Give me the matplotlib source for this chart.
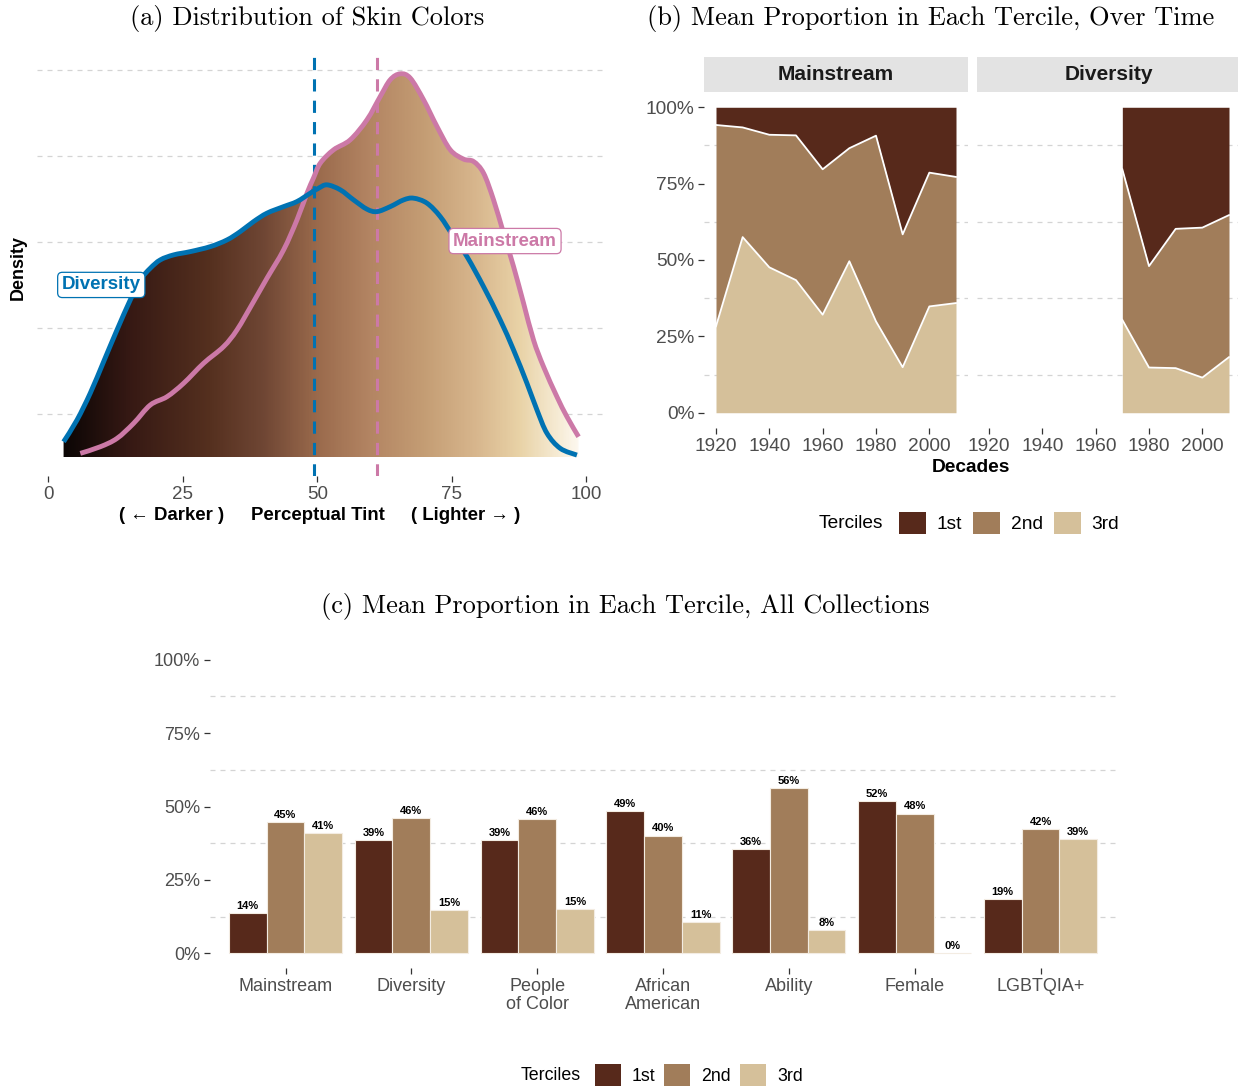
import numpy as np
import matplotlib
matplotlib.use("Agg")
import matplotlib.pyplot as plt
from matplotlib.colors import LinearSegmentedColormap
from matplotlib.patches import Patch, PathPatch
from matplotlib.path import Path
from matplotlib.ticker import PercentFormatter

plt.rcParams['font.family'] = ['Liberation Sans', 'DejaVu Sans']

# ---- (a) density curves (perceptual tint vs density) ----
div_tint = [2.84, 5.33, 7.81, 10.28, 12.77, 15.24, 17.10, 18.96, 20.82, 23.29, 26.39, 30.11,
            33.22, 35.69, 38.16, 40.65, 43.74, 46.23, 48.70, 50.19, 51.80, 54.28, 56.75, 59.24,
            61.10, 63.57, 66.04, 67.90, 70.39, 72.86, 75.33, 77.83, 80.91, 84.01, 86.49, 88.98,
            90.84, 92.70, 95.17, 98.27]
div_density = [0.00178, 0.00430, 0.00744, 0.01108, 0.01477, 0.01826, 0.02058, 0.02194, 0.02291,
               0.02349, 0.02387, 0.02445, 0.02523, 0.02620, 0.02736, 0.02834, 0.02910, 0.02969,
               0.03066, 0.03122, 0.03163, 0.03105, 0.02988, 0.02880, 0.02852, 0.02910, 0.02988,
               0.03008, 0.02950, 0.02794, 0.02562, 0.02329, 0.01980, 0.01593, 0.01244, 0.00857,
               0.00547, 0.00276, 0.00101, 0.00023]
main_tint = [5.95, 9.67, 12.77, 15.86, 18.96, 22.06, 25.15, 28.87, 32.58, 35.07, 38.16, 40.65,
             43.74, 46.23, 48.09, 49.31, 50.56, 53.03, 56.13, 59.24, 61.71, 63.57, 65.43, 67.29,
             69.76, 72.25, 74.72, 77.19, 79.05, 80.91, 82.77, 84.63, 86.49, 88.35, 90.20, 92.06,
             94.55, 96.41, 98.57]
main_density = [0.00043, 0.00120, 0.00217, 0.00392, 0.00605, 0.00701, 0.00857, 0.01090, 0.01283,
                0.01477, 0.01806, 0.02078, 0.02407, 0.02756, 0.03066, 0.03244, 0.03415, 0.03570,
                0.03686, 0.03919, 0.04190, 0.04384, 0.04453, 0.04403, 0.04151, 0.03841, 0.03570,
                0.03462, 0.03434, 0.03299, 0.02988, 0.02601, 0.02213, 0.01787, 0.01360, 0.01050,
                0.00701, 0.00469, 0.00236]
div_mean = 49.3
main_mean = 61.1

# skin tone gradient stops (tint, colour)
tint_stops = [0, 3, 15, 30, 40, 50, 60, 70, 80, 88, 95, 100]
tint_colors = ['#080404', '#0c0605', '#361914', '#55301f', '#6f4634', '#9a6a4c', '#b38563',
               '#c49d74', '#d8b78e', '#e9d3a7', '#f6ebd4', '#fffcf8']

# ---- (b) mean proportion per tercile over time ----
decades_main = [1920, 1930, 1940, 1950, 1960, 1970, 1980, 1990, 2000, 2010]
main_1st = [0.058, 0.066, 0.090, 0.092, 0.203, 0.134, 0.093, 0.416, 0.214, 0.228]
main_2nd = [0.659, 0.359, 0.434, 0.474, 0.476, 0.370, 0.608, 0.435, 0.438, 0.413]
main_3rd = [0.283, 0.575, 0.476, 0.434, 0.321, 0.496, 0.299, 0.149, 0.348, 0.359]
decades_div = [1970, 1980, 1990, 2000, 2010]
div_1st = [0.203, 0.520, 0.398, 0.394, 0.353]
div_2nd = [0.493, 0.332, 0.456, 0.491, 0.465]
div_3rd = [0.304, 0.148, 0.146, 0.115, 0.182]

# ---- (c) mean proportion per tercile, all collections ----
collections = ['Mainstream', 'Diversity', 'People\nof Color', 'African\nAmerican',
               'Ability', 'Female', 'LGBTQIA+']
all_1st = [0.136, 0.387, 0.387, 0.486, 0.356, 0.520, 0.186]
all_2nd = [0.448, 0.461, 0.457, 0.401, 0.563, 0.476, 0.423]
all_3rd = [0.410, 0.146, 0.150, 0.106, 0.078, 0.000, 0.388]

terciles = ['1st', '2nd', '3rd']
tercile_colors = ['#57291b', '#a17d5a', '#d5c09a']
BLUE = '#0072B2'
PINK = '#CC79A7'
GRID = '#D4D4D4'
TICK_TXT = '#4D4D4D'
TICK = '#333333'

W, H = 1238, 1090
fig = plt.figure(figsize=(W / 100, H / 100), dpi=100)


def fbox(x0, y0, x1, y1):
    # pixel box (top-left origin) -> figure fraction rect
    return [x0 / W, 1 - y1 / H, (x1 - x0) / W, (y1 - y0) / H]


def style_axis(ax, size):
    for s in ax.spines.values():
        s.set_visible(False)
    ax.tick_params(which='major', length=4, width=0.9, color=TICK,
                   labelcolor=TICK_TXT, labelsize=size, pad=3)
    ax.tick_params(which='minor', length=0)
    ax.set_facecolor('none')
    ax.set_axisbelow(True)


def minor_grid(ax, ticks):
    ax.set_yticks(ticks, minor=True)
    ax.grid(which='minor', axis='y', color=GRID, lw=0.9, ls=(0, (4, 4)))
    ax.grid(which='major', visible=False)


def smooth_path(xs, ys, closed=False):
    # catmull-rom through the traced points, drawn as bezier segments
    pts = np.column_stack([xs, ys])
    p = np.vstack([pts[0], pts, pts[-1]])
    verts, codes = [pts[0]], [Path.MOVETO]
    for i in range(1, len(p) - 2):
        p0, p1, p2, p3 = p[i - 1], p[i], p[i + 1], p[i + 2]
        verts += [p1 + (p2 - p0) / 6, p2 - (p3 - p1) / 6, p2]
        codes += [Path.CURVE4] * 3
    if closed:
        verts += [(xs[-1], 0), (xs[0], 0), (xs[0], ys[0])]
        codes += [Path.LINETO, Path.LINETO, Path.CLOSEPOLY]
    return Path(verts, codes)


# ================= (a) =================
ax = fig.add_axes(fbox(37, 56, 604, 476))
style_axis(ax, 13.5)
minor_grid(ax, [0.005, 0.015, 0.025, 0.035, 0.045])
ax.set_yticks([])

cmap = LinearSegmentedColormap.from_list(
    'skin', [(p / 100, c) for p, c in zip(tint_stops, tint_colors)])
grad = np.linspace(0, 100, 600).reshape(1, -1)
for tint, dens in [(div_tint, div_density), (main_tint, main_density)]:
    clip = PathPatch(smooth_path(tint, dens, closed=True), transform=ax.transData)
    im = ax.imshow(grad, extent=[0, 100, 0, 0.05], origin='lower', aspect='auto',
                   cmap=cmap, vmin=0, vmax=100, zorder=1, interpolation='bilinear')
    im.set_clip_path(clip)

ax.axvline(div_mean, color=BLUE, lw=2.2, ls=(0, (4, 3)), zorder=2)
ax.axvline(main_mean, color=PINK, lw=2.2, ls=(0, (4, 3)), zorder=2)
for tint, dens, col in [(main_tint, main_density, PINK), (div_tint, div_density, BLUE)]:
    ax.add_patch(PathPatch(smooth_path(tint, dens), fill=False, ec=col, lw=3.5,
                           capstyle='butt', joinstyle='round', zorder=3))

ax.text(9.85, 0.0200, 'Diversity', color=BLUE, fontsize=13.5, fontweight='bold',
        ha='center', va='center', zorder=5,
        bbox=dict(boxstyle='round,pad=0.22,rounding_size=0.25', fc='white', ec=BLUE, lw=0.9))
ax.text(84.9, 0.0251, 'Mainstream', color=PINK, fontsize=13.5, fontweight='bold',
        ha='center', va='center', zorder=5,
        bbox=dict(boxstyle='round,pad=0.22,rounding_size=0.25', fc='white', ec=PINK, lw=0.9))

ax.set_xticks([0, 25, 50, 75, 100])
ax.set_xlim(-2.1, 103.3)
ax.set_ylim(-0.0022, 0.0466)

fig.text(18 / W, 1 - 267 / H, 'Density', rotation=90, ha='center', va='center',
         fontsize=13, fontweight='bold')
fig.text(172 / W, 1 - 516 / H, '( ← Darker )', ha='center', va='center', fontsize=13.4, fontweight='bold')
fig.text(318 / W, 1 - 516 / H, 'Perceptual Tint', ha='center', va='center', fontsize=13.4, fontweight='bold')
fig.text(466 / W, 1 - 516 / H, '( Lighter → )', ha='center', va='center', fontsize=13.4, fontweight='bold')

# ================= (b) =================
panels = [
    ('Mainstream', decades_main, main_1st, main_2nd, main_3rd, (704, 968), (704, 968)),
    ('Diversity', decades_div, div_1st, div_2nd, div_3rd, (977, 1241), (977, 1238)),
]
for i, (name, dec, p1, p2, p3, (x0, x1), (s0, s1)) in enumerate(panels):
    axb = fig.add_axes(fbox(x0, 92, x1, 428))
    style_axis(axb, 13.8)
    minor_grid(axb, [0.125, 0.375, 0.625, 0.875])
    low = np.array(p3)
    mid = low + np.array(p2)
    top = mid + np.array(p1)
    axb.fill_between(dec, 0, low, color=tercile_colors[2], lw=0, zorder=1)
    axb.fill_between(dec, low, mid, color=tercile_colors[1], lw=0, zorder=1)
    axb.fill_between(dec, mid, top, color=tercile_colors[0], lw=0, zorder=1)
    axb.plot(dec, low, color='white', lw=1.3, zorder=2)
    axb.plot(dec, mid, color='white', lw=1.3, zorder=2)
    axb.set_xlim(1915.5, 2014.5)
    axb.set_ylim(-0.05, 1.05)
    axb.set_xticks([1920, 1940, 1960, 1980, 2000])
    axb.set_yticks([0, 0.25, 0.5, 0.75, 1.0])
    if i == 0:
        axb.yaxis.set_major_formatter(PercentFormatter(1.0, decimals=0))
    else:
        axb.tick_params(axis='y', which='major', length=0, labelleft=False)

    strip = fig.add_axes(fbox(s0, 57, s1, 92))
    strip.set_facecolor('#E3E3E3')
    strip.set_xticks([])
    strip.set_yticks([])
    for s in strip.spines.values():
        s.set_visible(False)
    strip.text(0.5 * (x1 - x0) / (s1 - s0), 0.5, name, transform=strip.transAxes,
               ha='center', va='center', fontsize=15, fontweight='bold', color='#1A1A1A')

fig.text(971 / W, 1 - 468 / H, 'Decades', ha='center', va='center', fontsize=13.8, fontweight='bold')

handles = [Patch(facecolor=c, edgecolor='none', label=l) for c, l in zip(tercile_colors, terciles)]
fig.text(819 / W, 1 - 524 / H, 'Terciles', ha='left', va='center', fontsize=13.8)
fig.legend(handles=handles, loc='center left', bbox_to_anchor=(899 / W, 1 - 523 / H), ncol=3,
           frameon=False, fontsize=13.8, handlelength=1.4, handleheight=1.4, handletextpad=0.55,
           columnspacing=0.6, borderpad=0, borderaxespad=0)

# ================= (c) =================
axc = fig.add_axes(fbox(210, 645, 1116, 968))
style_axis(axc, 13)
minor_grid(axc, [0.125, 0.375, 0.625, 0.875])
xpos = np.arange(1, len(collections) + 1)
bw = 0.3
for k, vals in enumerate([all_1st, all_2nd, all_3rd]):
    xs = xpos + (k - 1) * bw
    axc.bar(xs, vals, width=bw, color=tercile_colors[k], edgecolor='#F3ECE2', lw=0.8, zorder=2)
    for xv, v in zip(xs, vals):
        axc.annotate(f'{v * 100:.0f}%', (xv, v), xytext=(0, 1.5), textcoords='offset points',
                     ha='center', va='bottom', fontsize=8, fontweight='bold', zorder=3)
axc.set_xlim(0.4, 7.6)
axc.set_ylim(-0.05, 1.05)
axc.set_xticks(xpos)
axc.set_xticklabels(collections, linespacing=1.12)
axc.set_yticks([0, 0.25, 0.5, 0.75, 1.0])
axc.yaxis.set_major_formatter(PercentFormatter(1.0, decimals=0))

fig.text(521 / W, 1 - 1076 / H, 'Terciles', ha='left', va='center', fontsize=12.8)
fig.legend(handles=handles, loc='center left', bbox_to_anchor=(595 / W, 1 - 1075 / H), ncol=3,
           frameon=False, fontsize=12.8, handlelength=1.46, handleheight=1.46, handletextpad=0.62,
           columnspacing=0.5, borderpad=0, borderaxespad=0)

# ---- titles ----
fig.text(307 / W, 1 - 18 / H, '(a) Distribution of Skin Colors', family='cmr10',
         fontsize=19, ha='center', va='center')
fig.text(931 / W, 1 - 18 / H, '(b) Mean Proportion in Each Tercile, Over Time', family='cmr10',
         fontsize=19, ha='center', va='center')
fig.text(625 / W, 1 - 607 / H, '(c) Mean Proportion in Each Tercile, All Collections', family='cmr10',
         fontsize=19, ha='center', va='center')

fig.savefig('out.png', dpi=100)
